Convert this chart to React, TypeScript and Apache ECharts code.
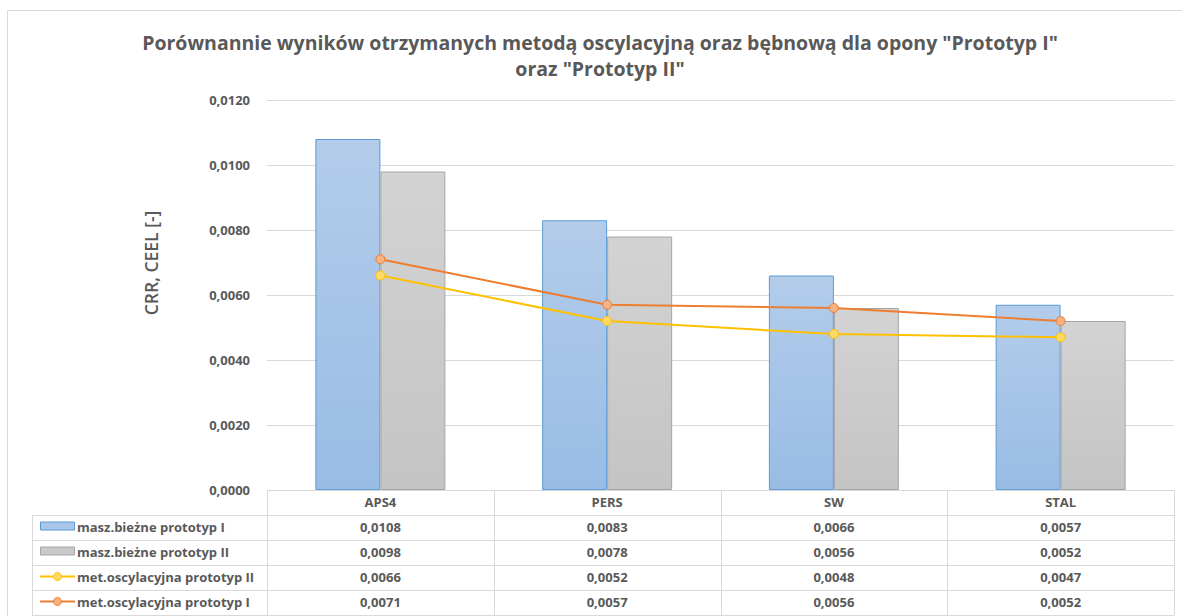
import React, { useEffect, useRef } from "react";
import * as echarts from "echarts";

const categories = ["APS4", "PERS", "SW", "STAL"];
const seriesNames = [
  "masz.bieżne prototyp I",
  "masz.bieżne prototyp II",
  "met.oscylacyjna prototyp II",
  "met.oscylacyjna prototyp I",
];
const bieznePI = [0.0108, 0.0083, 0.0066, 0.0057];
const bieznePII = [0.0098, 0.0078, 0.0056, 0.0052];
const oscPII = [0.0066, 0.0052, 0.0048, 0.0047];
const oscPI = [0.0071, 0.0057, 0.0056, 0.0052];
const titleLines = [
  'Porównannie wyników otrzymanych metodą oscylacyjną oraz bębnową dla opony "Prototyp I"',
  'oraz "Prototyp II"',
];
const yAxisTitle = "CRR, CEEL [-]";

const fmt = (v: number) => v.toFixed(4).replace(".", ",");

const TEXT = "#595959";
const BORDER = "#D9D9D9";
const FONT = "Open Sans";

export default function App() {
  const ref = useRef<HTMLDivElement>(null);
  useEffect(() => {
    if (!ref.current) return;
    const chart = echarts.init(ref.current, undefined, { renderer: "svg" });

    const gl = 267;
    const gr = 1174;
    const gt = 100;
    const gb = 490;
    const colW = (gr - gl) / categories.length;
    const headerH = 25;
    const rowH = 25;
    const tableLeft = 32;
    const rowsTop = gb + headerH;
    const allData = [bieznePI, bieznePII, oscPII, oscPI];

    const graphics: any[] = [];
    graphics.push({
      type: "rect",
      shape: { x: 7.5, y: 10.5, width: 1300, height: 800 },
      style: { fill: "none", stroke: BORDER, lineWidth: 1 },
      silent: true,
    });
    titleLines.forEach((t, i) => {
      graphics.push({
        type: "text",
        x: 600,
        y: 42 + i * 26,
        style: {
          text: t,
          fill: TEXT,
          font: `bold 19.5px "${FONT}"`,
          align: "center",
          verticalAlign: "middle",
        },
      });
    });
    graphics.push({
      type: "text",
      x: 151,
      y: 263,
      rotation: Math.PI / 2,
      style: {
        text: yAxisTitle,
        fill: TEXT,
        font: `600 17.5px "${FONT}"`,
        align: "center",
        verticalAlign: "middle",
      },
    });
    const hline = (x1: number, x2: number, y: number) =>
      graphics.push({
        type: "line",
        shape: { x1, y1: y + 0.5, x2, y2: y + 0.5 },
        style: { stroke: BORDER, lineWidth: 1 },
        silent: true,
      });
    const vline = (x: number, y1: number, y2: number) =>
      graphics.push({
        type: "line",
        shape: { x1: x + 0.5, y1, x2: x + 0.5, y2 },
        style: { stroke: BORDER, lineWidth: 1 },
        silent: true,
      });
    hline(gl, gr, gb);
    for (let i = 0; i <= allData.length; i++) {
      hline(tableLeft, gr, rowsTop + i * rowH);
    }
    const tableBottom = rowsTop + allData.length * rowH;
    vline(tableLeft, rowsTop, tableBottom);
    for (let c = 0; c <= categories.length; c++) {
      vline(Math.round(gl + c * colW), gb, tableBottom);
    }
    categories.forEach((c, ci) => {
      graphics.push({
        type: "text",
        x: gl + (ci + 0.5) * colW,
        y: gb + headerH / 2 - 1,
        style: {
          text: c,
          fill: TEXT,
          font: `bold 13px "${FONT}"`,
          align: "center",
          verticalAlign: "middle",
        },
      });
    });
    const iconStyles = [
      { kind: "bar", fill: "#A9C5E8", stroke: "#5B9BD5" },
      { kind: "bar", fill: "#C9C9C9", stroke: "#A5A5A5" },
      { kind: "line", fill: "#FFD966", stroke: "#FFC000" },
      { kind: "line", fill: "#F4B183", stroke: "#ED7D31" },
    ];
    allData.forEach((arr, ri) => {
      const cy = rowsTop + ri * rowH + rowH / 2 - 1;
      const ic = iconStyles[ri];
      if (ic.kind === "bar") {
        graphics.push({
          type: "rect",
          shape: { x: 40.5, y: cy - 4.5, width: 34, height: 8 },
          style: { fill: ic.fill, stroke: ic.stroke, lineWidth: 1 },
        });
      } else {
        graphics.push({
          type: "line",
          shape: { x1: 40, y1: cy, x2: 75, y2: cy },
          style: { stroke: ic.stroke, lineWidth: 2 },
        });
        graphics.push({
          type: "circle",
          shape: { cx: 57.5, cy, r: 4 },
          style: { fill: ic.fill, stroke: ic.stroke, lineWidth: 1 },
        });
      }
      graphics.push({
        type: "text",
        x: 77,
        y: cy,
        style: {
          text: seriesNames[ri],
          fill: TEXT,
          font: `bold 13px "${FONT}"`,
          align: "left",
          verticalAlign: "middle",
        },
      });
      arr.forEach((v, ci) => {
        graphics.push({
          type: "text",
          x: gl + (ci + 0.5) * colW,
          y: cy,
          style: {
            text: fmt(v),
            fill: TEXT,
            font: `bold 13px "${FONT}"`,
            align: "center",
            verticalAlign: "middle",
          },
        });
      });
    });

    const barGrad = (top: string, bottom: string) =>
      new echarts.graphic.LinearGradient(0, 0, 0, 1, [
        { offset: 0, color: top },
        { offset: 1, color: bottom },
      ]);

    chart.setOption({
      animation: false,
      backgroundColor: "#fff",
      grid: { left: gl, right: 1182 - gr, top: gt, bottom: 616 - gb, containLabel: false },
      xAxis: {
        type: "category",
        data: categories,
        axisLine: { show: false },
        axisTick: { show: false },
        axisLabel: { show: false },
        splitLine: { show: false },
      },
      yAxis: {
        type: "value",
        min: 0,
        max: 0.012,
        interval: 0.002,
        axisLine: { show: false },
        axisTick: { show: false },
        axisLabel: {
          formatter: (v: number) => fmt(v),
          color: TEXT,
          fontFamily: FONT,
          fontSize: 13,
          fontWeight: "bold",
          margin: 17,
        },
        splitLine: { lineStyle: { color: BORDER, width: 1 } },
      },
      series: [
        {
          name: seriesNames[0],
          type: "bar",
          data: bieznePI,
          barWidth: 65,
          barGap: "0%",
          itemStyle: {
            color: barGrad("#B3CCEA", "#99BCE5"),
            borderColor: "#5B9BD5",
            borderWidth: 1,
          },
        },
        {
          name: seriesNames[1],
          type: "bar",
          data: bieznePII,
          barWidth: 65,
          barGap: "0%",
          itemStyle: {
            color: barGrad("#D3D3D3", "#C4C4C4"),
            borderColor: "#A5A5A5",
            borderWidth: 1,
          },
        },
        {
          name: seriesNames[2],
          type: "line",
          data: oscPII,
          symbol: "circle",
          symbolSize: 9,
          lineStyle: { color: "#FFC000", width: 2 },
          itemStyle: { color: "#FFD966", borderColor: "#FFC000", borderWidth: 1 },
          z: 3,
        },
        {
          name: seriesNames[3],
          type: "line",
          data: oscPI,
          symbol: "circle",
          symbolSize: 9,
          lineStyle: { color: "#ED7D31", width: 2 },
          itemStyle: { color: "#F4B183", borderColor: "#ED7D31", borderWidth: 1 },
          z: 4,
        },
      ],
      graphic: graphics,
    });
    return () => chart.dispose();
  }, []);
  return (
    <div
      ref={ref}
      style={{ position: "fixed", left: 0, top: 0, width: 1182, height: 616 }}
    />
  );
}
